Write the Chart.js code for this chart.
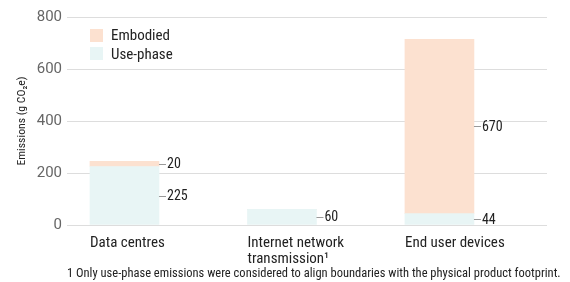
<!DOCTYPE html>
<html>
<head>
<meta charset="utf-8">
<script src="https://cdn.jsdelivr.net/npm/chart.js@4"></script>
<style>
  html, body { margin: 0; padding: 0; background: #fff; }
  #wrap { position: relative; width: 570px; height: 282px; font-family: 'Roboto Condensed', Roboto, sans-serif; }
  #legend { position: absolute; left: 90px; top: 26px; font-size: 15px; color: #222; }
  #legend div { display: flex; align-items: center; height: 18.5px; }
  #legend span.box { width: 13px; height: 13px; margin-right: 8px; display: inline-block; }
  #note { position: absolute; left: 67px; top: 265px; font-size: 12.5px; color: #222; white-space: nowrap; }
</style>
</head>
<body>
<div id="wrap">
  <canvas id="emChart" width="570" height="282"></canvas>
  <div id="legend"></div>
  <div id="note">1 Only use-phase emissions were considered to align boundaries with the physical product footprint.</div>
</div>
<script>
// categories and series (g CO2e)
const categories = ['Data centres', ['Internet network', 'transmission\u00b9'], 'End user devices'];
const usePhase = [225, 60, 44];
const embodied = [20, 0, 670];
const yTicks = [0, 200, 400, 600, 800];

const colors = { use: '#e8f5f5', emb: '#fce1d0' };
const condensed = "'Roboto Condensed', Roboto, sans-serif";

// value labels with small leader lines on the right of each segment
const valueLabels = {
    id: 'valueLabels',
    afterDatasetsDraw(chart) {
        const ctx = chart.ctx;
        ctx.save();
        ctx.font = '14px ' + condensed;
        ctx.textBaseline = 'middle';
        ctx.fillStyle = '#222';
        ctx.strokeStyle = '#999';
        ctx.lineWidth = 1;
        chart.data.datasets.forEach((ds, di) => {
            const meta = chart.getDatasetMeta(di);
            meta.data.forEach((bar, i) => {
                const v = ds.data[i].y;
                if (!v) return;
                const yMid = (bar.y + bar.base) / 2;
                const xr = bar.x + bar.width / 2;
                ctx.beginPath();
                ctx.moveTo(xr, Math.round(yMid) + 0.5);
                ctx.lineTo(xr + 7, Math.round(yMid) + 0.5);
                ctx.stroke();
                ctx.fillText(String(v), xr + 8, yMid + 1);
            });
        });
        ctx.restore();
    }
};

const chart = new Chart(document.getElementById('emChart'), {
    type: 'bar',
    data: {
        datasets: [
            { label: 'Use-phase', data: usePhase.map((v, i) => ({ x: i, y: v })), backgroundColor: colors.use },
            { label: 'Embodied', data: embodied.map((v, i) => ({ x: i, y: v })), backgroundColor: colors.emb }
        ]
    },
    options: {
        responsive: false,
        animation: false,
        layout: { padding: { top: 17, right: 23, left: 15, bottom: 0 } },
        datasets: { bar: { barThickness: 69 } },
        scales: {
            x: {
                type: 'linear',
                stacked: true,
                offset: false,
                min: -0.365,
                max: 2.683,
                grid: { display: false, offset: false },
                border: { display: false },
                afterBuildTicks: scale => { scale.ticks = categories.map((c, i) => ({ value: i })); },
                afterFit: scale => { scale.height = 57; },
                ticks: {
                    callback: v => categories[v],
                    align: 'start',
                    labelOffset: -34.5,
                    padding: 2,
                    color: '#222',
                    font: { family: condensed, size: 15, lineHeight: '16px' },
                    maxRotation: 0,
                    autoSkip: false
                }
            },
            y: {
                stacked: true,
                min: 0,
                max: 800,
                afterBuildTicks: scale => { scale.ticks = yTicks.map(v => ({ value: v })); },
                afterFit: scale => { scale.width = 52; },
                grid: { color: '#dddddd', drawTicks: false },
                border: { display: false },
                ticks: { padding: 5, color: '#666', font: { family: 'Roboto', size: 15 } },
                title: { display: true, text: 'Emissions (g CO\u2082e)', color: '#222', font: { family: condensed, size: 11.7 }, padding: 0 }
            }
        },
        plugins: { legend: { display: false }, tooltip: { enabled: false } }
    },
    plugins: [valueLabels]
});

// legend, top entry first
const legendEl = document.getElementById('legend');
chart.data.datasets.slice().reverse().forEach(ds => {
    const row = document.createElement('div');
    row.innerHTML = '<span class="box" style="background:' + ds.backgroundColor + '"></span>' + ds.label;
    legendEl.appendChild(row);
});
</script>
</body>
</html>
